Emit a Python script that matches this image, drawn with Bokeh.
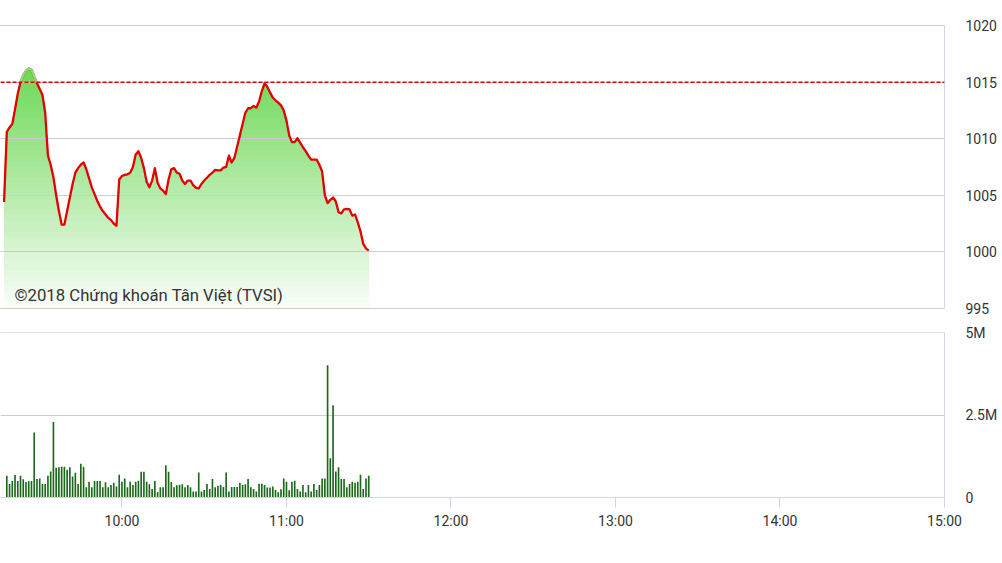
import numpy as np
from bokeh.plotting import figure
from bokeh.layouts import column
from bokeh.models import Range1d, FixedTicker, Span, Label
from bokeh.embed import file_html
from bokeh.resources import INLINE

# ---------------- data ----------------
price_start = "09:17"          # one point per minute
price = [
    1004.4, 1010.6, 1011.0, 1011.3, 1012.6, 1014.0, 1015.0, 1015.6, 1016.0, 1016.2,
    1016.1, 1015.5, 1014.9, 1014.4, 1013.9, 1012.3, 1008.5, 1007.7, 1006.6, 1005.0,
    1003.6, 1002.4, 1002.4, 1003.6, 1004.8, 1006.0, 1007.0, 1007.4, 1007.7, 1007.9,
    1007.3, 1006.5, 1005.7, 1005.1, 1004.5, 1004.0, 1003.6, 1003.3, 1003.0, 1002.8,
    1002.5, 1002.3, 1006.4, 1006.7, 1006.8, 1006.85, 1007.0, 1007.5, 1008.6, 1008.9,
    1008.3, 1007.4, 1006.2, 1005.7, 1006.3, 1007.4, 1006.1, 1005.6, 1005.4, 1005.1,
    1006.4, 1007.3, 1007.4, 1007.0, 1006.9, 1006.3, 1006.0, 1006.3, 1006.3, 1005.9,
    1005.65, 1005.6, 1006.0, 1006.3, 1006.55, 1006.8, 1007.0, 1007.25, 1007.2, 1007.2,
    1007.45, 1007.5, 1008.5, 1007.9, 1008.3, 1009.3, 1010.3, 1011.3, 1012.3, 1012.7,
    1012.7, 1012.9, 1012.75, 1013.3, 1014.2, 1014.9, 1014.6, 1014.1, 1013.65, 1013.4,
    1013.2, 1012.95, 1012.5, 1011.6, 1010.3, 1009.7, 1009.7, 1010.05, 1009.65, 1009.25,
    1008.9, 1008.5, 1008.15, 1008.15, 1008.15, 1007.7, 1007.1, 1005.0, 1004.3, 1004.6,
    1004.8, 1004.45, 1003.5, 1003.4, 1003.75, 1003.8, 1003.75, 1003.2, 1003.3, 1002.6,
    1001.8, 1000.7, 1000.3, 1000.1,
]
reference_price = 1015.0

volume_start = "09:18"         # one bar per minute, in millions
volume_m = [
    0.66, 0.41, 0.50, 0.68, 0.50, 0.66, 0.55, 0.47, 0.49, 0.50,
    1.97, 0.56, 0.58, 0.41, 0.41, 0.66, 0.79, 2.29, 0.90, 0.92,
    0.93, 0.93, 0.84, 0.92, 0.64, 0.75, 0.41, 1.02, 0.93, 0.31,
    0.48, 0.31, 0.50, 0.50, 0.50, 0.31, 0.46, 0.31, 0.38, 0.45,
    0.33, 0.69, 0.48, 0.58, 0.31, 0.48, 0.38, 0.48, 0.51, 0.78,
    0.78, 0.48, 0.40, 0.26, 0.50, 0.17, 0.31, 0.31, 0.98, 0.78,
    0.47, 0.31, 0.37, 0.39, 0.40, 0.31, 0.38,
    0.31, 0.18, 0.18, 0.76, 0.18, 0.23, 0.41, 0.26, 0.56, 0.31,
    0.36, 0.38, 0.32, 0.76, 0.18, 0.32, 0.32, 0.32, 0.45, 0.38,
    0.40, 0.56, 0.31, 0.26, 0.18, 0.42, 0.42, 0.38, 0.30, 0.30,
    0.33, 0.23, 0.16, 0.25, 0.58, 0.48, 0.22, 0.48, 0.51, 0.26,
    0.18, 0.38, 0.16, 0.38, 0.18, 0.41, 0.23, 0.38, 0.58, 0.58,
    4.01, 1.19, 2.80, 0.79, 0.92, 0.56, 0.56, 0.31, 0.41, 0.48,
    0.45, 0.48, 0.69, 0.26, 0.58, 0.66,
]

price_ticks = [995, 1000, 1005, 1010, 1015, 1020]
volume_ticks = [0, 2.5, 5]
volume_tick_labels = ["0", "2.5M", "5M"]
time_tick_labels = ["10:00", "11:00", "12:00", "13:00", "14:00", "15:00"]
watermark = "©2018 Chứng khoán Tân Việt (TVSI)"

# ---------------- helpers ----------------
def to_min(s):
    h, m = s.split(":")
    return int(h) * 60 + int(m)

price_x = to_min(price_start) + np.arange(len(price))
price_y = np.array(price, dtype=float)
vol_x = to_min(volume_start) + np.arange(len(volume_m))
time_ticks = [to_min(s) for s in time_tick_labels]

X_START = 555.7          # left edge of the visible window (minutes)
X_END = time_ticks[-1]
xr = Range1d(X_START, X_END)

FONT = "Roboto"
LABEL_COLOR = "#333333"
GRID_COLOR = "#cccccc"
AXIS_COLOR = "#ccd6eb"
W = 1000
MBR = 54
PAD = 0.02   # tiny padding so the end grid lines are drawn

def above_segments(xs, ys, ref):
    segs_x, segs_y = [], []
    cx, cy = [], []
    for i in range(len(xs)):
        x, y = xs[i], ys[i]
        if i > 0:
            px, py = xs[i - 1], ys[i - 1]
            if (py >= ref) != (y >= ref):
                xc = px + (ref - py) * (x - px) / (y - py)
                cx.append(xc); cy.append(ref)
                if py >= ref:
                    segs_x.append(cx); segs_y.append(cy)
                    cx, cy = [], []
        if y >= ref:
            cx.append(x); cy.append(y)
    if len(cx) > 1:
        segs_x.append(cx); segs_y.append(cy)
    return segs_x, segs_y

# ---------------- price panel ----------------
p1 = figure(width=W, height=320, x_range=xr,
            y_range=Range1d(price_ticks[0] - PAD, price_ticks[-1] + PAD),
            y_axis_location="right", x_axis_location=None, toolbar_location=None,
            output_backend="svg", min_border_left=0, min_border_right=MBR,
            min_border_top=25, min_border_bottom=12)
p1.outline_line_color = None
p1.xgrid.visible = False
p1.ygrid.ticker = FixedTicker(ticks=price_ticks)
p1.ygrid.grid_line_color = GRID_COLOR
p1.ygrid.level = "guide"

# vertical gradient fill (light green fading to white)
top_val = price_y.max()
bot_val = price_ticks[0]
N = 44
levels = np.linspace(top_val, bot_val, N + 1)[:-1]
top_rgb = np.array([110, 216, 88])
for i, L in enumerate(levels):
    t = (i + 0.5) / N
    c = top_rgb + (255 - top_rgb) * min(t * 0.96, 1.0)
    col = "#%02x%02x%02x" % tuple(int(round(v)) for v in c)
    p1.varea(x=price_x, y1=bot_val, y2=np.minimum(price_y, L), fill_color=col, fill_alpha=1.0)

r_red = p1.line(price_x, price_y, line_color="#e30000", line_width=2.3, line_join="round")
r_red.level = "annotation"
gx, gy = above_segments(price_x, price_y, reference_price)
if gx:
    r_green = p1.multi_line(gx, gy, line_color="#8ade78", line_width=2.3, line_join="round")
    r_green.level = "annotation"

ref_span = Span(location=reference_price, dimension="width", line_color="#dd0000",
                line_width=1.3, line_dash="4 2")
ref_span.level = "overlay"
p1.add_layout(ref_span)

p1.add_layout(Label(x=14, y=4, x_units="screen", y_units="screen", text=watermark,
                    text_font=FONT, text_font_size="16.7px", text_color=LABEL_COLOR))

ya = p1.yaxis[0]
ya.ticker = FixedTicker(ticks=price_ticks)
ya.axis_line_color = AXIS_COLOR
ya.major_tick_out = 0
ya.major_tick_in = 0
ya.minor_tick_out = 0
ya.minor_tick_in = 0
ya.major_label_standoff = 21
ya.major_label_text_font = FONT
ya.major_label_text_font_size = "14px"
ya.major_label_text_color = LABEL_COLOR

# ---------------- volume panel ----------------
p2 = figure(width=W, height=217, x_range=xr,
            y_range=Range1d(volume_ticks[0], volume_ticks[-1] + 0.004),
            y_axis_location="right", toolbar_location=None, output_backend="svg",
            min_border_left=0, min_border_right=MBR, min_border_top=12, min_border_bottom=40)
p2.outline_line_color = None
p2.xgrid.visible = False
p2.ygrid.ticker = FixedTicker(ticks=volume_ticks)
p2.ygrid.grid_line_color = GRID_COLOR

p2.vbar(x=vol_x, top=volume_m, bottom=0, width=0.6, fill_color="#1a681a", line_color=None)

ya2 = p2.yaxis[0]
ya2.ticker = FixedTicker(ticks=volume_ticks)
ya2.major_label_overrides = {v: s for v, s in zip(volume_ticks, volume_tick_labels)}
ya2.axis_line_color = AXIS_COLOR
ya2.major_tick_out = 0
ya2.major_tick_in = 0
ya2.minor_tick_out = 0
ya2.minor_tick_in = 0
ya2.major_label_standoff = 21
ya2.major_label_text_font = FONT
ya2.major_label_text_font_size = "14px"
ya2.major_label_text_color = LABEL_COLOR

xa = p2.xaxis[0]
xa.ticker = FixedTicker(ticks=time_ticks)
xa.major_label_overrides = {v: s for v, s in zip(time_ticks, time_tick_labels)}
xa.axis_line_color = AXIS_COLOR
xa.major_tick_line_color = AXIS_COLOR
xa.major_tick_out = 10
xa.major_tick_in = 0
xa.minor_tick_out = 0
xa.minor_tick_in = 0
xa.major_label_standoff = 5
xa.major_label_text_font = FONT
xa.major_label_text_font_size = "14px"
xa.major_label_text_color = LABEL_COLOR

layout = column(p1, p2, spacing=0)
open("out.html", "w", encoding="utf-8").write(file_html(layout, INLINE))
